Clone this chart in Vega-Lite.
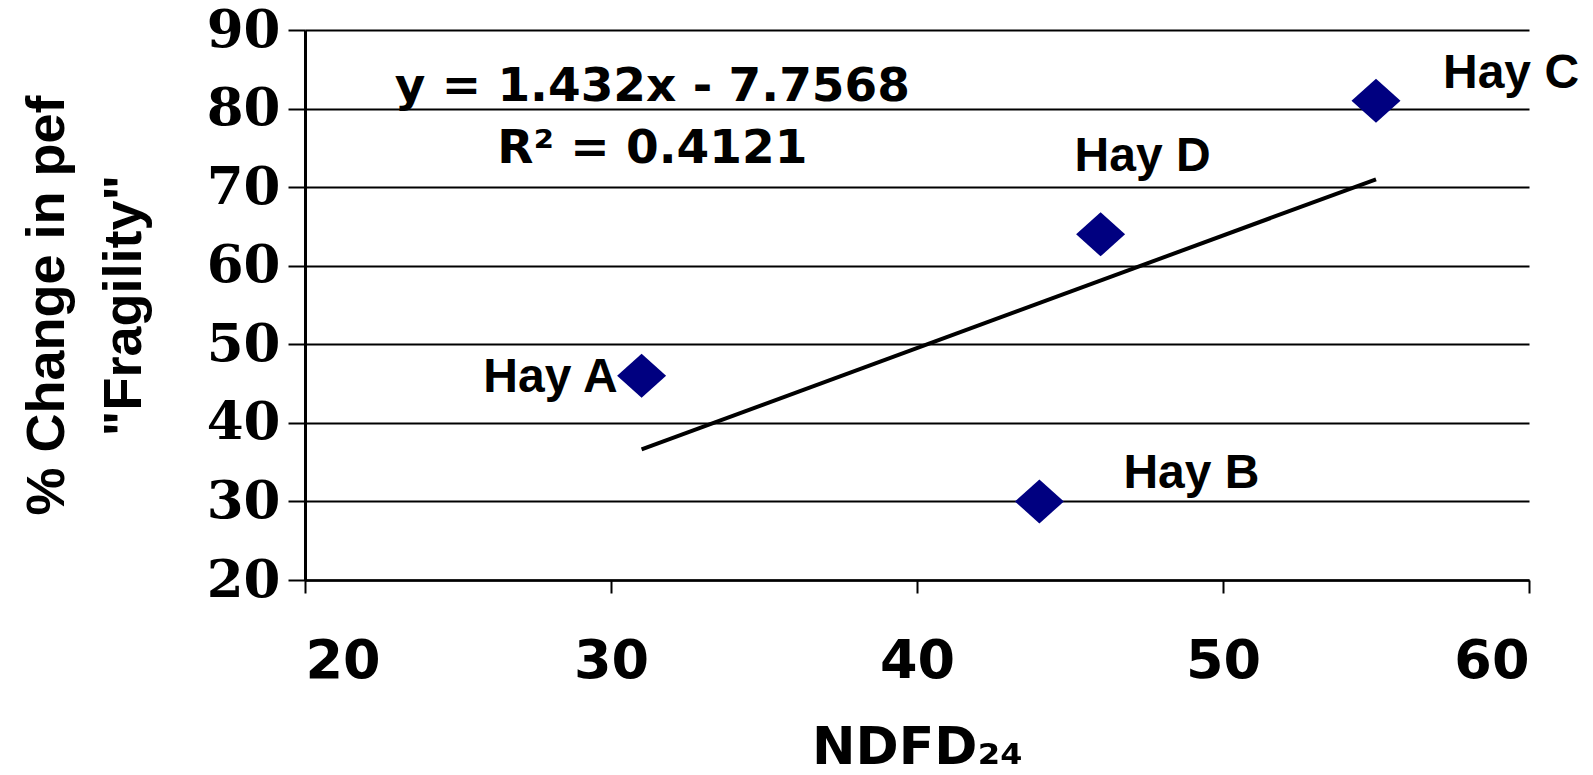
{
  "$schema": "https://vega.github.io/schema/vega-lite/v6.json",
  "width": 1224,
  "height": 550,
  "autosize": {"type": "none"},
  "padding": {"left": 305, "top": 30, "right": 64, "bottom": 195},
  "background": "white",
  "config": {"view": {"stroke": null}},
  "data": {"values": [
    {"hay": "Hay A", "ndfd": 31, "change": 46},
    {"hay": "Hay B", "ndfd": 44, "change": 30},
    {"hay": "Hay C", "ndfd": 55, "change": 81},
    {"hay": "Hay D", "ndfd": 46, "change": 64}
  ]},
  "layer": [
    {
      "data": {"values": [{"ndfd": 31, "fit": 36.6352}, {"ndfd": 55, "fit": 71.0032}]},
      "mark": {"type": "line", "color": "black", "strokeWidth": 4},
      "encoding": {
        "x": {
          "field": "ndfd", "type": "quantitative",
          "scale": {"domain": [20, 60], "nice": false, "zero": false},
          "axis": {
            "values": [20, 30, 40, 50, 60],
            "grid": false,
            "domainColor": "black", "domainWidth": 2.5,
            "tickColor": "black", "tickWidth": 2, "tickSize": 13,
            "labelFont": "DejaVu Sans", "labelFontWeight": "bold", "labelFontSize": 54,
            "labelColor": "black", "labelPadding": 41,
            "title": "NDFD₂₄",
            "titleFont": "DejaVu Sans", "titleFontWeight": "bold", "titleFontSize": 52,
            "titleColor": "black", "titleBaseline": "alphabetic", "titleY": 183
          }
        },
        "y": {
          "field": "fit", "type": "quantitative",
          "scale": {"domain": [20, 90], "nice": false, "zero": false},
          "axis": {
            "values": [20, 30, 40, 50, 60, 70, 80, 90],
            "grid": true, "gridColor": "black", "gridWidth": 2, "gridOpacity": 1,
            "domainColor": "black", "domainWidth": 3,
            "tickColor": "black", "tickWidth": 2, "tickSize": 17,
            "labelFont": "DejaVu Serif", "labelFontWeight": "bold", "labelFontSize": 53,
            "labelColor": "black", "labelPadding": 8,
            "title": ["% Change in pef", "\"Fragility\""],
            "titleFont": "Liberation Sans", "titleFontWeight": "bold", "titleFontSize": 54,
            "titleColor": "black", "titleAngle": -90, "titleAlign": "center",
            "titleBaseline": "alphabetic", "titleLineHeight": 77,
            "titleX": -242, "titleY": 275
          }
        }
      }
    },
    {
      "mark": {"type": "point", "shape": "M-1,0L0,-0.9L1,0L0,0.9Z", "filled": true, "color": "#000080", "opacity": 1, "size": 2400},
      "encoding": {
        "x": {"field": "ndfd", "type": "quantitative"},
        "y": {"field": "change", "type": "quantitative"}
      }
    },
    {
      "transform": [{"filter": "datum.hay === 'Hay A'"}],
      "mark": {"type": "text", "align": "right", "baseline": "middle", "dx": -24, "dy": 2, "font": "Liberation Sans", "fontWeight": "bold", "fontSize": 48, "color": "black"},
      "encoding": {
        "x": {"field": "ndfd", "type": "quantitative"},
        "y": {"field": "change", "type": "quantitative"},
        "text": {"field": "hay"}
      }
    },
    {
      "transform": [{"filter": "datum.hay === 'Hay B'"}],
      "mark": {"type": "text", "align": "left", "baseline": "middle", "dx": 84, "dy": -27, "font": "Liberation Sans", "fontWeight": "bold", "fontSize": 48, "color": "black"},
      "encoding": {
        "x": {"field": "ndfd", "type": "quantitative"},
        "y": {"field": "change", "type": "quantitative"},
        "text": {"field": "hay"}
      }
    },
    {
      "transform": [{"filter": "datum.hay === 'Hay C'"}],
      "mark": {"type": "text", "align": "left", "baseline": "middle", "dx": 67, "dy": -27, "font": "Liberation Sans", "fontWeight": "bold", "fontSize": 48, "color": "black"},
      "encoding": {
        "x": {"field": "ndfd", "type": "quantitative"},
        "y": {"field": "change", "type": "quantitative"},
        "text": {"field": "hay"}
      }
    },
    {
      "transform": [{"filter": "datum.hay === 'Hay D'"}],
      "mark": {"type": "text", "align": "left", "baseline": "middle", "dx": -26, "dy": -77, "font": "Liberation Sans", "fontWeight": "bold", "fontSize": 48, "color": "black"},
      "encoding": {
        "x": {"field": "ndfd", "type": "quantitative"},
        "y": {"field": "change", "type": "quantitative"},
        "text": {"field": "hay"}
      }
    },
    {
      "data": {"values": [{"ndfd": 31.35, "change": 81.0}]},
      "mark": {"type": "text", "align": "center", "baseline": "alphabetic", "lineHeight": 62, "font": "DejaVu Sans", "fontWeight": "bold", "fontSize": 47, "color": "black",
        "text": ["y = 1.432x - 7.7568", "R² = 0.4121"]},
      "encoding": {
        "x": {"field": "ndfd", "type": "quantitative"},
        "y": {"field": "change", "type": "quantitative"}
      }
    }
  ]
}
